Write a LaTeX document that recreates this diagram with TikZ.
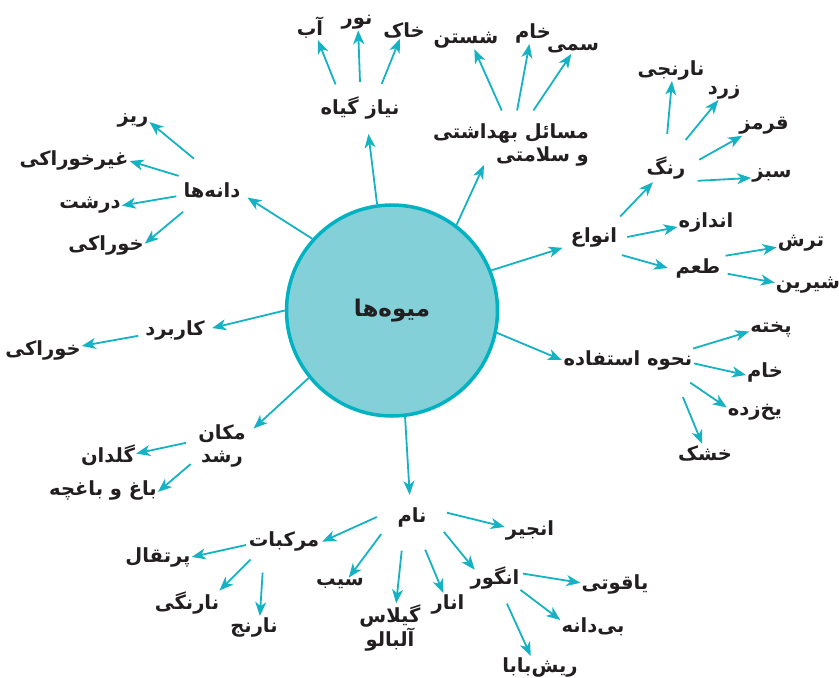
\documentclass[tikz,border=0pt]{standalone}
\usepackage{fontspec}
\usepackage{tikz}
\usetikzlibrary{arrows.meta,shapes.geometric}
\TeXXeTstate=1
\newfontfamily\fa[Script=Arabic]{DejaVu Sans}
\newcommand{\fr}[1]{\beginR #1\endR}
\definecolor{arrc}{RGB}{20,178,194}
\definecolor{hubfill}{RGB}{131,208,216}
\definecolor{hubline}{RGB}{0,178,194}
\definecolor{txt}{RGB}{35,31,32}
\tikzset{
  lbl/.style={font=\fa\bfseries\fontsize{19.5}{23}\selectfont, text=txt, inner sep=1pt},
  hub/.style={lbl, circle, inner sep=0pt, minimum size=#1},
  arr/.style={-{Stealth[length=14pt,width=11pt,inset=4pt]}, line width=1.8pt, draw=arrc},
}
\begin{document}
\begin{tikzpicture}[x=1pt,y=-1pt]
      \useasboundingbox (0,0) rectangle (839,678);
      \node[circle, draw=hubline, fill=hubfill, line width=3.5pt, minimum size=211pt,
            font=\fa\bfseries\fontsize{23}{27}\selectfont, text=txt] (fruit) at (392,310.5) {\fr{میوه‌ها}};
      % first ring
      \node[hub=72] (dane) at (212,190) {\fr{دانه‌ها}};
      \node[lbl, ellipse, inner sep=0pt, minimum height=52pt] (niaz) at (360,108) {\fr{نیاز گیاه}};
      \node[lbl, align=right, inner xsep=2pt, inner ysep=13pt] (masael) at (511,145) {\fr{مسائل بهداشتی}\\\fr{و سلامتی}};
      \node[hub=66] (anva) at (594,237) {\fr{انواع}};
      \node[hub=132] (nahve) at (628,360) {\fr{نحوه استفاده}};
      \node[hub=74] (karbord) at (175,330) {\fr{کاربرد}};
      \node[hub=72, align=center] (makan) at (222,446) {\fr{مکان}\\\fr{رشد}};
      \node[hub=70] (nam) at (412,517) {\fr{نام}};
      \draw[arr] (fruit.138.5) -- (dane.-12.9);
      \draw[arr] (fruit.98.5) -- (niaz.-72.3);
      \draw[arr] (fruit.53.8) -- ([shift={(-27,20)}]masael.center);
      \draw[arr] (fruit.22) -- (anva.-161);
      \draw[arr] (fruit.-12.1) -- (nahve.180);
      \draw[arr, shorten >=-13pt] (fruit.-83.7) -- (nam.95.2);
      \draw[arr] (fruit.219.2) -- (makan.29.9);
      \draw[arr] (fruit.180) -- (karbord.3.1);
      % seeds
      \node[lbl] (riz) at (133,120) {\fr{ریز}};
      \node[lbl] (gheyr) at (74,160) {\fr{غیرخوراکی}};
      \node[lbl] (dorosht) at (90,205) {\fr{درشت}};
      \node[lbl] (khoraki) at (106,245) {\fr{خوراکی}};
      \draw[arr] (dane.120.1) -- (riz.-7.8);
      \draw[arr] (dane.157.9) -- (gheyr.-1.9);
      \draw[arr] (dane.190.7) -- (dorosht.-1.6);
      \draw[arr] (dane.217.2) -- (khoraki.2.8);
      % plant needs
      \node[lbl] (ab) at (310,28) {\fr{آب}};
      \node[lbl] (noor) at (357,22) {\fr{نور}};
      \node[lbl] (khak) at (404,30) {\fr{خاک}};
      \draw[arr] (niaz.136.5) -- (ab.-57.7);
      \draw[arr] (niaz.90) -- (noor.-82.4);
      \draw[arr] (niaz.48) -- (khak.245);
      % health
      \node[lbl] (shostan) at (466,40) {\fr{شستن}};
      \node[lbl] (khamA) at (533,33) {\fr{خام}};
      \node[lbl] (sammi) at (573,48) {\fr{سمی}};
      \draw[arr] (masael.105) -- (shostan.-48.8);
      \draw[arr] (masael.80) -- (khamA.252.5);
      \draw[arr] (masael.57) -- (sammi.254.5);
      % kinds
      \node[hub=68] (rang) at (666,168) {\fr{رنگ}};
      \node[lbl] (andaze) at (706,222) {\fr{اندازه}};
      \node[hub=60] (taam) at (698,268) {\fr{طعم}};
      \draw[arr, shorten >=-15pt] (anva.38.4) -- (rang.227.1);
      \draw[arr] (anva.0) -- (andaze.190.1);
      \draw[arr] (anva.-33.2) -- (taam.180);
      \node[lbl] (naranji) at (671,70) {\fr{نارنجی}};
      \node[lbl] (zard) at (724,92) {\fr{زرد}};
      \node[lbl] (ghermez) at (764,126) {\fr{قرمز}};
      \node[lbl] (sabz) at (772,175) {\fr{سبز}};
      \draw[arr] (rang.88.4) -- (naranji.-85.2);
      \draw[arr] (rang.55.8) -- (zard.235.3);
      \draw[arr] (rang.14) -- (ghermez.204.6);
      \draw[arr] (rang.-22.6) -- (sabz.188.5);
      \node[lbl] (torsh) at (801,243) {\fr{ترش}};
      \node[lbl] (shirin) at (808,285) {\fr{شیرین}};
      \draw[arr] (taam.24) -- (torsh.190.8);
      \draw[arr] (taam.-11.3) -- (shirin.176.2);
      % way of use
      \node[lbl] (pokhte) at (771,330) {\fr{پخته}};
      \node[lbl] (khamB) at (765,372) {\fr{خام}};
      \node[lbl] (yakh) at (755,412) {\fr{یخ‌زده}};
      \node[lbl] (khoshk) at (705,453) {\fr{خشک}};
      \draw[arr] (nahve.10.7) -- (pokhte.184.8);
      \draw[arr] (nahve.-3.4) -- (khamB.189.5);
      \draw[arr] (nahve.-20.4) -- (yakh.171.9);
      \draw[arr] (nahve.-34) -- (khoshk.107.4);
      % use
      \node[lbl] (khorakiB) at (43,350) {\fr{خوراکی}};
      \draw[arr] (karbord.189) -- (khorakiB.6.3);
      % place of growth
      \node[lbl] (goldan) at (108,455) {\fr{گلدان}};
      \node[lbl] (bagh) at (103,490) {\fr{باغ و باغچه}};
      \draw[arr] (makan.175) -- (goldan.3.4);
      \draw[arr] (makan.210.4) -- (bagh.-2);
      % names
      \node[hub=76] (morak) at (284,541) {\fr{مرکبات}};
      \node[lbl] (sib) at (340,584) {\fr{سیب}};
      \node[lbl, align=center] (gilas) at (390,628) {\fr{گیلاس}\\\fr{آلبالو}};
      \node[lbl] (anar) at (448,604) {\fr{انار}};
      \node[hub=56] (angoor) at (495,578) {\fr{انگور}};
      \node[lbl] (anjir) at (530,530) {\fr{انجیر}};
      \draw[arr] (nam.180) -- (morak.-1.3);
      \draw[arr] (nam.209.4) -- (sib.36.3);
      \draw[arr] (nam.253.3) -- (gilas.76);
      \draw[arr] (nam.-68.2) -- (anar.113.2);
      \draw[arr, shorten >=-7pt] (nam.-25.8) -- (angoor.151);
      \draw[arr] (nam.7) -- (anjir.173.7);
      \node[lbl] (porteghal) at (158,557) {\fr{پرتقال}};
      \node[lbl] (narengi) at (187,603) {\fr{نارنگی}};
      \node[lbl] (narenj) at (254,627) {\fr{نارنج}};
      \draw[arr] (morak.186.8) -- (porteghal.0);
      \draw[arr] (morak.209.5) -- (narengi.21.5);
      \draw[arr] (morak.236.8) -- (narenj.62.1);
      \node[lbl] (yaghooti) at (615,584) {\fr{یاقوتی}};
      \node[lbl] (bidane) at (593,627) {\fr{بی‌دانه}};
      \node[lbl] (rish) at (540,667) {\fr{ریش‌بابا}};
      \draw[arr] (angoor.9.7) -- (yaghooti.178.5);
      \draw[arr] (angoor.-25.6) -- (bidane.168.7);
      \draw[arr] (angoor.-65.6) -- (rish.130.4);
\end{tikzpicture}
\end{document}
